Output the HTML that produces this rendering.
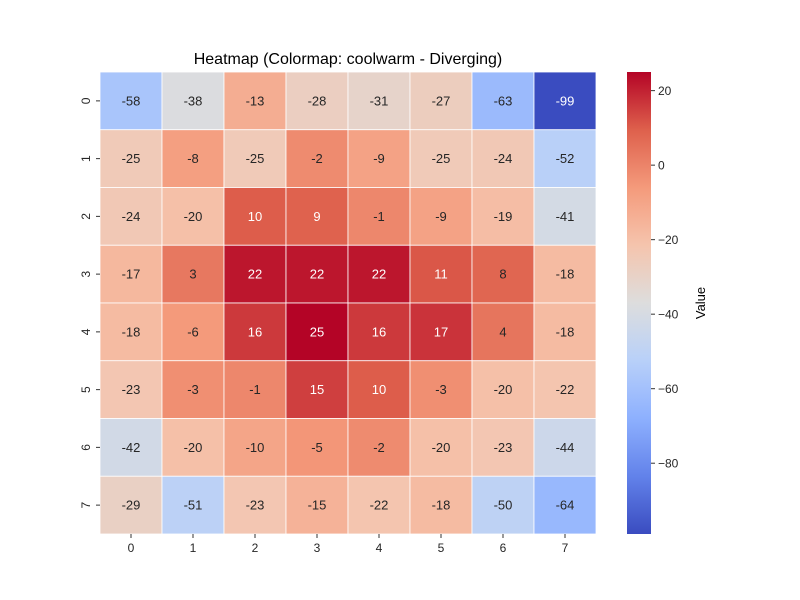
<!DOCTYPE html>
<html><head><meta charset="utf-8"><style>
body{margin:0;background:#fff;}
svg{display:block;font-family:"Liberation Sans",sans-serif;}
</style></head><body>
<svg id="chart" width="800" height="600" xmlns="http://www.w3.org/2000/svg">
<text x="348" y="64" font-size="16" text-anchor="middle">Heatmap (Colormap: coolwarm - Diverging)</text>
<g id="cells"></g>
<g id="xt"></g>
<g id="yt"></g>
<g id="cb"></g>
<text transform="translate(705,303) rotate(-90)" font-size="13" text-anchor="middle">Value</text>
</svg>
<script>
const rowLabels=["0","1","2","3","4","5","6","7"];
const colLabels=["0","1","2","3","4","5","6","7"];
const row0=[-58,-38,-13,-28,-31,-27,-63,-99];
const row1=[-25,-8,-25,-2,-9,-25,-24,-52];
const row2=[-24,-20,10,9,-1,-9,-19,-41];
const row3=[-17,3,22,22,22,11,8,-18];
const row4=[-18,-6,16,25,16,17,4,-18];
const row5=[-23,-3,-1,15,10,-3,-20,-22];
const row6=[-42,-20,-10,-5,-2,-20,-23,-44];
const row7=[-29,-51,-23,-15,-22,-18,-50,-64];
const values=[row0,row1,row2,row3,row4,row5,row6,row7];
const cbTicks=[20,0,-20,-40,-60,-80];

const NS="http://www.w3.org/2000/svg";
const X0=100,Y0=72,W=496,H=462;
const flat=values.flat();
const vmin=Math.min(...flat),vmax=Math.max(...flat);
const cw=W/colLabels.length,ch=H/rowLabels.length;
const stops=[[58,76,192],[98,130,234],[141,176,254],[184,208,249],[221,221,221],[245,196,173],[244,154,123],[222,96,76],[180,4,38]];
function cmap(t){t=Math.max(0,Math.min(1,t));const p=t*8,i=Math.min(7,Math.floor(p)),f=p-i;
return stops[i].map((c,k)=>Math.round(c+(stops[i+1][k]-c)*f));}
function norm(v){return (v-vmin)/(vmax-vmin);}
function lin(c){c/=255;return c<=0.03928?c/12.92:Math.pow((c+0.055)/1.055,2.4);}
function el(tag,attrs,parent){const e=document.createElementNS(NS,tag);for(const k in attrs)e.setAttribute(k,attrs[k]);parent.appendChild(e);return e;}
const cells=document.getElementById('cells');
values.forEach((row,r)=>row.forEach((v,c)=>{
 const col=cmap(norm(v));
 const rect=el('rect',{x:X0+c*cw,y:Y0+r*ch,width:cw,height:ch,fill:`rgb(${col})`,stroke:'#fff','stroke-width':0.8},cells);
 
 
 const lum=0.2126*lin(col[0])+0.7152*lin(col[1])+0.0722*lin(col[2]);
 const t=el('text',{x:X0+(c+0.5)*cw,y:Y0+(r+0.5)*ch+4.5,'font-size':13,'text-anchor':'middle',fill:lum>0.255?'#262626':'#fff'},cells);
 t.textContent=v;
 
 
}));
const xt=document.getElementById('xt');
colLabels.forEach((l,c)=>{const x=X0+(c+0.5)*cw;
 el('line',{x1:x,x2:x,y1:Y0+H,y2:Y0+H+4,stroke:'#333'},xt);
 const t=el('text',{x:x,y:Y0+H+18,'font-size':12,'text-anchor':'middle',fill:'#262626'},xt);t.textContent=l;
 
 });
const yt=document.getElementById('yt');
rowLabels.forEach((l,r)=>{const y=Y0+(r+0.5)*ch;
 el('line',{x1:X0-4,x2:X0,y1:y,y2:y,stroke:'#333'},yt);
 const t=el('text',{transform:`translate(${X0-10},${y}) rotate(-90)`,'font-size':12,'text-anchor':'middle',fill:'#262626'},yt);t.textContent=l;
 
 });
const cb=document.getElementById('cb');
const CX=627,CW=24;
const defs=el('defs',{},cb);
const g=el('linearGradient',{id:'grad',x1:0,y1:1,x2:0,y2:0},defs);
for(let i=0;i<=16;i++){const col=cmap(i/16);el('stop',{offset:i/16,'stop-color':`rgb(${col})`},g);}
const bar=el('rect',{x:CX,y:Y0,width:CW,height:H,fill:'url(#grad)'},cb);


cbTicks.forEach(v=>{const y=Y0+H*(vmax-v)/(vmax-vmin);
 el('line',{x1:CX+CW,x2:CX+CW+4,y1:y,y2:y,stroke:'#333'},cb);
 const t=el('text',{x:CX+CW+7,y:y+4.5,'font-size':12,fill:'#262626'},cb);t.textContent=(v<0?'\u2212'+(-v):v);
 
 });
</script>
</body></html>
